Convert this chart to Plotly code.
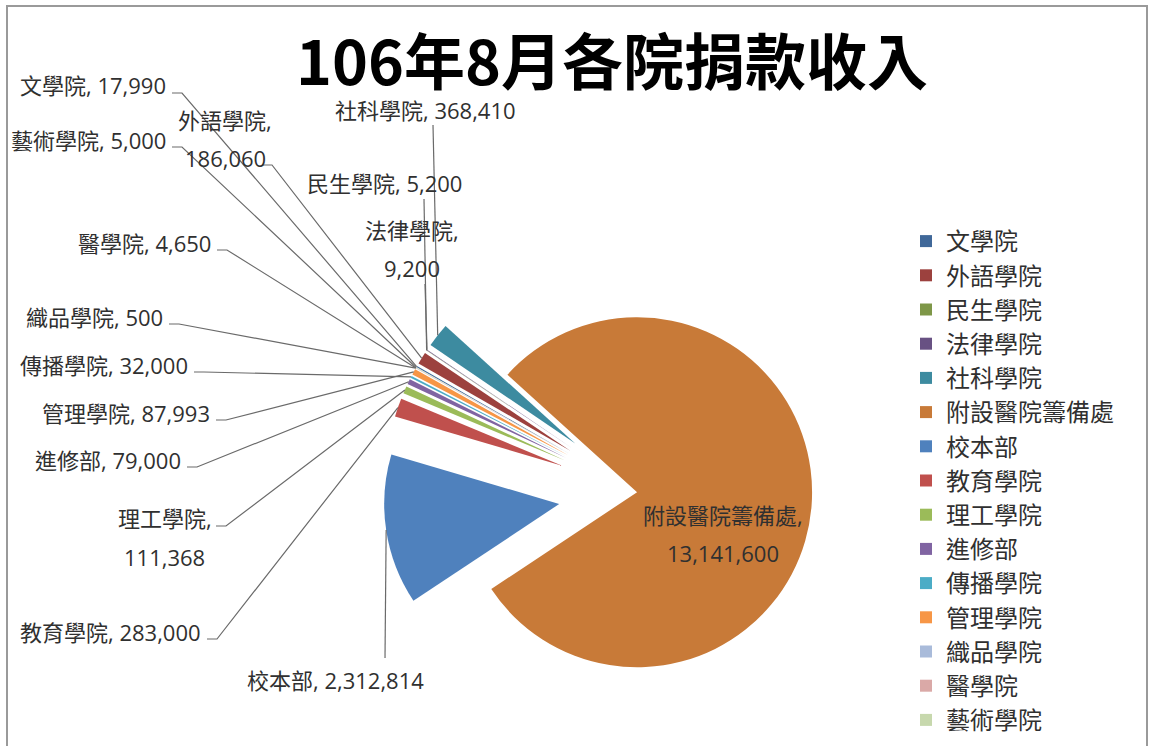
import math
import plotly.graph_objects as go

# ---------------- data ----------------
categories = ["文學院", "外語學院", "民生學院", "法律學院", "社科學院", "附設醫院籌備處",
              "校本部", "教育學院", "理工學院", "進修部", "傳播學院", "管理學院",
              "織品學院", "醫學院", "藝術學院"]
values = [17990, 186060, 5200, 9200, 368410, 13141600,
          2312814, 283000, 111368, 79000, 32000, 87993,
          500, 4650, 5000]
title_text = "106年8月各院捐款收入"

# ---------------- style ----------------
colors = ["#406899", "#9C413E", "#7E9748", "#685183", "#3D8BA0", "#C87A38",
          "#4F81BD", "#C0504D", "#9BBB59", "#8064A2", "#4BACC6", "#F79646",
          "#A9BBDA", "#DAA9A7", "#C7D8AD"]
W, H = 1151, 746
DOM_X = [0.33, 0.777]
DOM_Y = [0.0, 0.6803]
ROTATION = -60.5
PULL_BIG = 0.0
PULL_SMALL = 0.45
pulls = [PULL_BIG if c == "附設醫院籌備處" else PULL_SMALL for c in categories]
FONT = "Open Sans, Noto Sans CJK TC"
CJK_FONT = "Noto Sans CJK TC"
TXT = "#303030"
LINE = "#6a6a6a"

# label placement (pixel positions of label text, Excel-style manual layout)
# kind: 'left' -> right aligned text, leader with elbow; 'vert' -> vertical leader; 'none'
label_layout = {
    "文學院":   dict(lines=1, x=168, y=85,  anchor="right", lead=(172, 93), kind="left"),
    "藝術學院": dict(lines=1, x=168, y=140, anchor="right", lead=(172, 147), kind="left"),
    "外語學院": dict(lines=2, x=225, y=(120, 158), anchor="center", lead=(262, 165), kind="left"),
    "醫學院":   dict(lines=1, x=213, y=243, anchor="right", lead=(217, 250), kind="left"),
    "織品學院": dict(lines=1, x=165, y=317, anchor="right", lead=(169, 324), kind="left"),
    "傳播學院": dict(lines=1, x=190, y=365, anchor="right", lead=(194, 372), kind="left"),
    "管理學院": dict(lines=1, x=212, y=413, anchor="right", lead=(216, 420), kind="left"),
    "進修部":   dict(lines=1, x=183, y=460, anchor="right", lead=(187, 467), kind="left"),
    "理工學院": dict(lines=2, x=165, y=(518, 557), anchor="center", lead=(216, 526), kind="left"),
    "教育學院": dict(lines=1, x=203, y=632, anchor="right", lead=(207, 639), kind="left"),
    "社科學院": dict(lines=1, x=425, y=110, anchor="center", lead=(433, 125), kind="vert"),
    "民生學院": dict(lines=1, x=384, y=183, anchor="center", lead=(424, 199), kind="vert"),
    "法律學院": dict(lines=2, x=412, y=(230, 268), anchor="center", lead=(425, 284), kind="vert"),
    "校本部":   dict(lines=1, x=335, y=680, anchor="center", lead=(385, 658), kind="vert"),
    "附設醫院籌備處": dict(lines=2, x=723, y=(515, 553), anchor="center", lead=None, kind="none"),
}


def px2x(px):
    return px / W


def py2y(py):
    return 1 - py / H


# ---- pie geometry, as plotly computes it (used for leader-line targets) ----
width = W * (DOM_X[1] - DOM_X[0])
height = H * (DOM_Y[1] - DOM_Y[0])
max_pull = max(pulls)
r = min(width / 2, height / 2) / (1 + max_pull)
cx = W * (DOM_X[0] + DOM_X[1]) / 2
cy = H * (1 - DOM_Y[0]) - height / 2
total = sum(values)
outer_pts = {}
cum = 0.0
for c, v, p in zip(categories, values, pulls):
    a0 = math.radians(ROTATION) + 2 * math.pi * cum / total
    a1 = a0 + 2 * math.pi * v / total
    am = (a0 + a1) / 2
    dist = r * (1 + p)
    outer_pts[c] = (cx + dist * math.sin(am), cy - dist * math.cos(am))
    cum += v

fig = go.Figure()
fig.add_trace(go.Pie(
    labels=categories,
    values=values,
    sort=False,
    direction="clockwise",
    rotation=ROTATION,
    pull=pulls,
    marker=dict(colors=colors, line=dict(width=0)),
    textinfo="none",
    hoverinfo="label+value+percent",
    domain=dict(x=DOM_X, y=DOM_Y),
))

annotations = []
shapes = []
for c, v in zip(categories, values):
    spec = label_layout[c]
    if spec["lines"] == 1:
        texts = [f"{c}, {v:,}"]
        ys = [spec["y"]]
    else:
        texts = [f"{c},", f"{v:,}"]
        ys = list(spec["y"])
    for t, yy in zip(texts, ys):
        annotations.append(dict(
            x=px2x(spec["x"]), y=py2y(yy), xref="paper", yref="paper",
            text=t, showarrow=False, xanchor=spec["anchor"], yanchor="middle",
            font=dict(family=FONT, size=22, color=TXT),
        ))
    if spec["kind"] == "none":
        continue
    tx, ty = outer_pts[c]
    sx, sy = spec["lead"]
    if spec["kind"] == "left":
        path = (f"M{px2x(sx)},{py2y(sy)} L{px2x(sx + 10)},{py2y(sy)} "
                f"L{px2x(tx)},{py2y(ty)}")
    else:
        path = f"M{px2x(sx)},{py2y(sy)} L{px2x(tx)},{py2y(ty)}"
    shapes.append(dict(type="path", path=path, xref="paper", yref="paper",
                       line=dict(color=LINE, width=1.2)))

# chart area border
shapes.append(dict(type="rect", xref="paper", yref="paper",
                   x0=px2x(7), x1=px2x(1147), y0=py2y(760), y1=py2y(6),
                   line=dict(color="#9a9a9a", width=2), layer="below"))

fig.update_layout(
    width=W, height=H,
    margin=dict(l=0, r=0, t=0, b=0),
    paper_bgcolor="white",
    plot_bgcolor="white",
    title=dict(text=title_text, x=px2x(612), xanchor="center",
               y=py2y(64), yanchor="middle",
               font=dict(family=CJK_FONT, size=61, color="#000000", weight="bold")),
    showlegend=True,
    legend=dict(x=px2x(906), y=py2y(219), xanchor="left", yanchor="top",
                font=dict(family=CJK_FONT, size=24, color=TXT),
                bgcolor="rgba(0,0,0,0)", traceorder="normal"),
    annotations=annotations,
    shapes=shapes,
)

fig.write_html("out.html", config={"displayModeBar": False},
               post_script="document.body.style.margin='0';")
